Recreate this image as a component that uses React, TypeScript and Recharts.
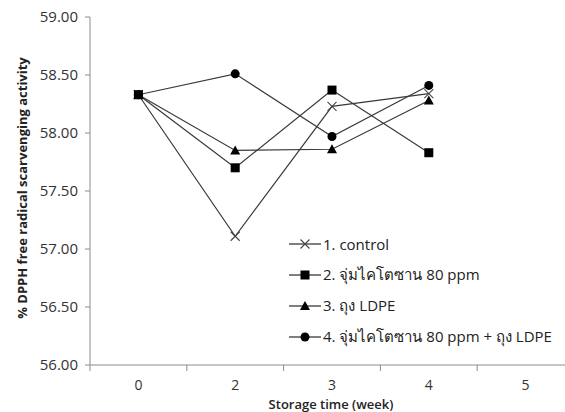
import React from "react";
import { LineChart, Line, XAxis, YAxis, Legend } from "recharts";

const weeks = ["0", "2", "3", "4", "5"];
const control = [58.33, 57.11, 58.23, 58.34, null];
const chitosan = [58.33, 57.7, 58.37, 57.83, null];
const ldpe = [58.33, 57.85, 57.86, 58.28, null];
const both = [58.33, 58.51, 57.97, 58.41, null];
const yTicks = [56, 56.5, 57, 57.5, 58, 58.5, 59];
const seriesNames = [
  "1. control",
  "2. จุ่มไคโตซาน 80 ppm",
  "3. ถุง LDPE",
  "4. จุ่มไคโตซาน 80 ppm + ถุง LDPE",
];

const data = weeks.map((w, i) => ({
  x: i + 0.5,
  week: w,
  control: control[i],
  chitosan: chitosan[i],
  ldpe: ldpe[i],
  both: both[i],
}));

const W = 600;
const H = 412;
const MARGIN = { top: 17, right: 26, left: 0, bottom: 0 };
const YW = 90;
const XH = 47;
const HALF = (W - MARGIN.left - MARGIN.right - YW) / weeks.length / 2;
const FONT = "'Open Sans', 'Noto Sans', sans-serif";
const LINE = "#3a3a3a";
const AXIS = "#8c8c8c";

type Shape = "cross" | "square" | "triangle" | "circle";

const Marker = ({ cx, cy, shape }: { cx: number; cy: number; shape: Shape }) => {
  if (cx == null || cy == null) return null;
  if (shape === "square") return <rect x={cx - 4.5} y={cy - 4.5} width={9} height={9} fill="#000" />;
  if (shape === "triangle")
    return <polygon points={`${cx},${cy - 5} ${cx + 5},${cy + 4} ${cx - 5},${cy + 4}`} fill="#000" />;
  if (shape === "circle") return <circle cx={cx} cy={cy} r={4.5} fill="#000" />;
  return (
    <g stroke="#444" strokeWidth={1.1}>
      <line x1={cx - 4.5} y1={cy - 4.5} x2={cx + 4.5} y2={cy + 4.5} />
      <line x1={cx - 4.5} y1={cy + 4.5} x2={cx + 4.5} y2={cy - 4.5} />
    </g>
  );
};

const shapes: Record<string, Shape> = {
  control: "cross",
  chitosan: "square",
  ldpe: "triangle",
  both: "circle",
};

const XTick = (props: any) => {
  const { x, y, index } = props;
  const label = weeks[index];
  if (label == null) return null;
  return (
    <text x={x + HALF} y={y + 17} textAnchor="middle" fontSize={14} fill="#333" fontFamily={FONT}>
      {label}
    </text>
  );
};

const renderLegend = (props: any) => {
  const { payload } = props;
  return (
    <div style={{ fontFamily: FONT }}>
      {payload.map((p: any) => (
        <div
          key={p.dataKey}
          style={{ display: "flex", alignItems: "center", height: 31, fontSize: 15, color: "#222", whiteSpace: "nowrap" }}
        >
          <svg width={32} height={14} style={{ marginRight: 2 }}>
            <line x1={0} y1={7} x2={32} y2={7} stroke={LINE} strokeWidth={1.3} />
            <Marker cx={16} cy={7} shape={shapes[p.dataKey]} />
          </svg>
          <span>{p.value}</span>
        </div>
      ))}
    </div>
  );
};

const keys = ["control", "chitosan", "ldpe", "both"];

export default function App() {
  return (
    <div style={{ position: "absolute", left: 0, top: 0, width: 565, height: 412, overflow: "hidden", background: "#fff" }}>
      <LineChart width={W} height={H} data={data} margin={MARGIN}>
        <XAxis
          dataKey="x"
          type="number"
          domain={[0, weeks.length]}
          ticks={weeks.map((_, i) => i).concat([weeks.length])}
          height={XH}
          stroke={AXIS}
          tickSize={6}
          tick={<XTick />}
          label={{
            content: () => (
              <text x={331} y={409} textAnchor="middle" fontSize={13} fontWeight={600} fill="#222" fontFamily={FONT}>
                Storage time (week)
              </text>
            ),
          }}
        />
        <YAxis
          type="number"
          domain={[56, 59]}
          ticks={yTicks}
          width={YW}
          stroke={AXIS}
          tickSize={5}
          tickMargin={7}
          tickFormatter={(v: number) => v.toFixed(2)}
          tick={{ fill: "#333", fontSize: 15, fontFamily: FONT }}
          label={{
            content: () => (
              <text
                x={22}
                y={188}
                transform="rotate(-90 22 188)"
                textAnchor="middle"
                dominantBaseline="central"
                fontSize={13}
                fontWeight="bold"
                fill="#222"
                fontFamily={FONT}
              >
                % DPPH free radical scarvenging activity
              </text>
            ),
          }}
        />
        <Legend
          layout="vertical"
          align="center"
          verticalAlign="middle"
          content={renderLegend}
          wrapperStyle={{ left: 289, top: 228, width: 290 }}
        />
        {keys.map((k, i) => (
          <Line
            key={k}
            dataKey={k}
            name={seriesNames[i]}
            stroke={LINE}
            strokeWidth={1.2}
            isAnimationActive={false}
            connectNulls={false}
            dot={(p: any) => <Marker key={`${k}-${p.index}`} cx={p.cx} cy={p.cy} shape={shapes[k]} />}
            activeDot={false}
          />
        ))}
      </LineChart>
    </div>
  );
}
